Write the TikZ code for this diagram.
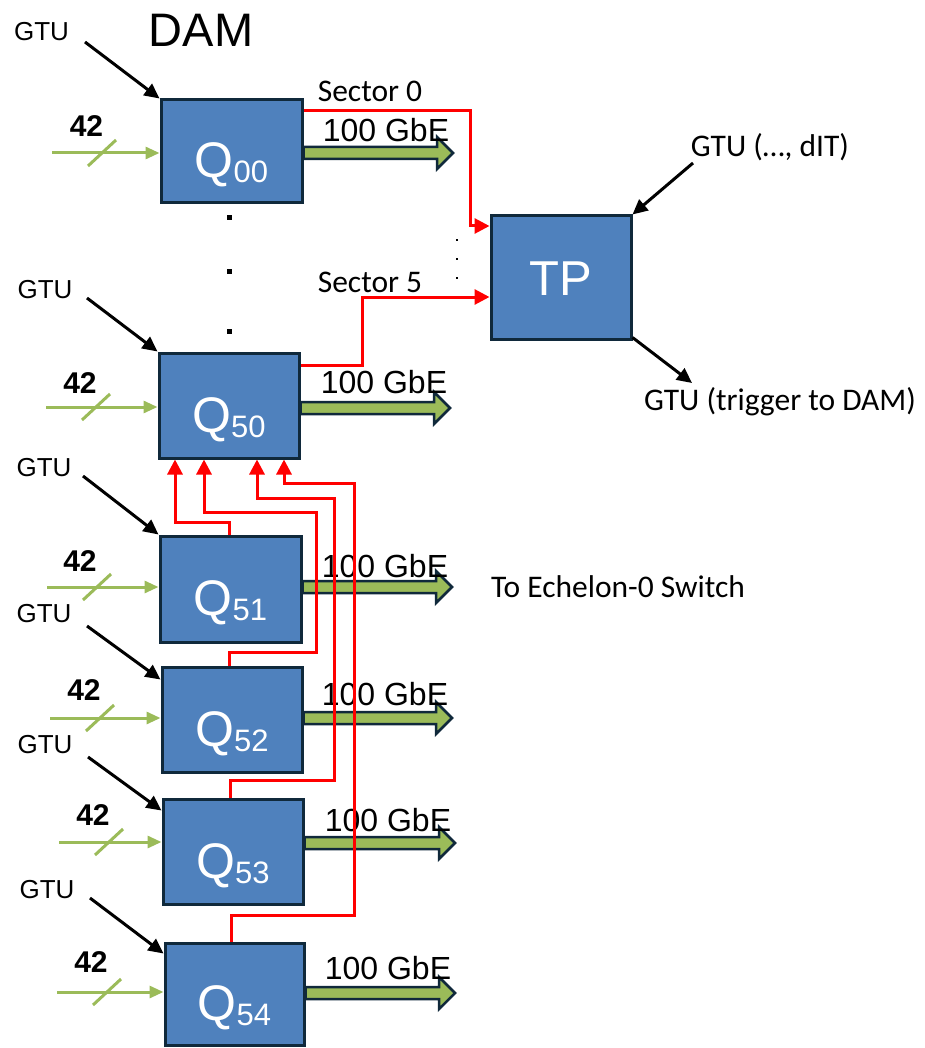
\documentclass[tikz,border=0pt]{standalone}
\usepackage{fontspec}
\setmainfont{Liberation Sans}
\newfontfamily\calib{Carlito}
\usetikzlibrary{arrows.meta,calc}
\definecolor{boxblue}{HTML}{4F81BD}
\definecolor{boxedge}{HTML}{10293B}
\definecolor{lgreen}{HTML}{9BBB59}
\newcommand\qsub[1]{\raisebox{-5pt}{\fontsize{31}{31}\selectfont #1}}
\newcommand\gbe[3]{%
 \pgfmathsetmacro\gA{#2-6}\pgfmathsetmacro\gB{#2+6}\pgfmathsetmacro\gC{#2-16}\pgfmathsetmacro\gD{#2+16}\pgfmathsetmacro\gE{#3-16}%
 \draw[garr] (#1.east |- 0,\gA) -- (\gE,\gA) -- (\gE,\gC) -- (#3,#2) -- (\gE,\gD) -- (\gE,\gB) -- (#1.east |- 0,\gB) -- cycle;}
\begin{document}
\begin{tikzpicture}[x=1pt,y=-1pt,
 qbox/.style={draw=boxedge, fill=boxblue, line width=3pt, inner sep=0pt, text=white,
   text height=53pt, text depth=0pt, font=\fontsize{50}{50}\selectfont},
 garr/.style={draw=boxedge, fill=lgreen, line width=2.5pt, line join=miter},
 rl/.style={draw=red, line width=3pt, -{Triangle[length=15pt,width=15pt]}},
 ba/.style={draw=black, line width=3pt, -{Triangle[length=15pt,width=14pt]}},
 gl/.style={draw=lgreen, line width=3pt, -{Triangle[length=14pt,width=12pt]}},
 slash/.style={draw=lgreen, line width=3pt},
 gbel/.style={font=\fontsize{32}{32}\selectfont, inner sep=0pt},
 gtul/.style={font=\fontsize{26}{26}\selectfont, inner sep=0pt},
 fortytwo/.style={font=\fontsize{30}{30}\selectfont\bfseries, inner sep=0pt},
 cal/.style={font=\calib\fontsize{31.5}{31.5}\selectfont, inner sep=0pt},
 dotsq/.style={fill=black, inner sep=0pt, minimum size=5pt},
 smalldot/.style={fill=black, inner sep=0pt, minimum size=2.5pt}
]
\useasboundingbox (0,0) rectangle (924,1048);

% boxes
\node[qbox, minimum width=141pt, minimum height=103pt] (q00) at (231.5,151.5) {Q\qsub{00}};
\node[qbox, minimum width=140pt, minimum height=105pt] (q50) at (229,405.5) {Q\qsub{50}};
\node[qbox, minimum width=141pt, minimum height=106pt] (q51) at (230.5,589) {Q\qsub{51}};
\node[qbox, minimum width=140pt, minimum height=105pt] (q52) at (232,719.5) {Q\qsub{52}};
\node[qbox, minimum width=140pt, minimum height=105pt] (q53) at (233,851.5) {Q\qsub{53}};
\node[qbox, minimum width=139pt, minimum height=102pt] (q54) at (234.5,994) {Q\qsub{54}};
\node[qbox, minimum width=140pt, minimum height=123pt, text height=35pt, font=\fontsize{49}{49}\selectfont] (tp) at (561,277.5) {TP};

% 100 GbE output arrows
\gbe{q00}{153}{453}
\gbe{q50}{408}{450}
\gbe{q51}{587}{452}
\gbe{q52}{718}{452}
\gbe{q53}{843}{455}
\gbe{q54}{993}{455}

\node[gbel] (e00) at (386,130) {100 GbE};
\node[gbel] (e50) at (384,382) {100 GbE};
\node[gbel] (e51) at (385,566) {100 GbE};
\node[gbel] (e52) at (385,694) {100 GbE};
\node[gbel] (e53) at (388,820) {100 GbE};
\node[gbel] (e54) at (388,968) {100 GbE};

% inputs 42
\coordinate (i00) at (52,153);
\coordinate (i50) at (46,407);
\coordinate (i51) at (47,587);
\coordinate (i52) at (50,718);
\coordinate (i53) at (59,842);
\coordinate (i54) at (57,992);
\foreach \n in {00,50,51,52,53,54}{
  \draw[gl] (i\n) -- (q\n.west |- i\n);
  \draw[slash] ($(i\n)+(36,13)$) -- ($(i\n)+(64,-13)$);
}
\node[fortytwo] (n00) at (86.5,126) {42};
\node[fortytwo] (n50) at (80,383) {42};
\node[fortytwo] (n51) at (80,561) {42};
\node[fortytwo] (n52) at (84,690) {42};
\node[fortytwo] (n53) at (93,815) {42};
\node[fortytwo] (n54) at (91,962) {42};

% GTU inputs
\node[gtul] (t00) at (41.5,31.5) {GTU};
\node[gtul] (t50) at (45,290) {GTU};
\node[gtul] (t51) at (44,468) {GTU};
\node[gtul] (t52) at (44,614) {GTU};
\node[gtul] (t53) at (45,745) {GTU};
\node[gtul] (t54) at (47,890) {GTU};
\coordinate (a00) at (85,42);
\coordinate (a50) at (87,298);
\coordinate (a51) at (83,476);
\coordinate (a52) at (87,626);
\coordinate (a53) at (88,757);
\coordinate (a54) at (90,898);
\draw[ba] (a00) -- (q00.north west);
\draw[ba] (a50) -- (q50.north west);
\draw[ba] (a51) -- (q51.north west);
\draw[ba] (a52) -- ($(q52.north west)+(0,14)$);
\draw[ba] (a53) -- ($(q53.north west)+(0,13)$);
\draw[ba] (a54) -- ($(q54.north west)+(0,12)$);

% title
\node[font=\fontsize{47}{47}\selectfont, inner sep=0pt] (dam) at (201,30) {DAM};

% dots
\node[dotsq] (d1) at (229,218) {};
\node[dotsq] (d2) at (229,272) {};
\node[dotsq] (d3) at (229,331) {};
\node[smalldot] (s1) at (457,240) {};
\node[smalldot] (s2) at (457,259) {};
\node[smalldot] (s3) at (457,278) {};

% sectors to TP
\draw[rl] (q00.east |- 0,111) -| (470,226) -- (tp.west |- 0,226);
\draw[rl] (q50.east |- 0,365) -| (362,297) -- (tp.west |- 0,297);
\node[cal] (sec0) at (370,91) {Sector 0};
\node[cal] (sec5) at (370,282) {Sector 5};

% Q51..Q54 to Q50
\draw[rl] ($(q51.north west)+(71,0)$) |- (175,522) -- (q50.south -| 175,0);
\draw[rl] ($(q52.north west)+(69,0)$) |- (316,652) |- (204,512) -- (q50.south -| 204,0);
\draw[rl] ($(q53.north west)+(69,0)$) |- (334,780) |- (257,498) -- (q50.south -| 257,0);
\draw[rl] ($(q54.north west)+(68,0)$) |- (354,915) |- (284,483) -- (q50.south -| 284,0);

% TP GTU
\node[cal] (tin) at (770,147) {GTU (…, dIT)};
\node[cal] (tout) at (780,402) {GTU (trigger to DAM)};
\coordinate (tpa) at (693,163);
\coordinate (tpb) at (692,383);
\draw[ba] (tpa) -- (tp.north east);
\draw[ba] ($(tp.south east)+(0,-3)$) -- (tpb);

\node[cal] (ech) at (618,587) {To Echelon-0 Switch};
\end{tikzpicture}
\end{document}
